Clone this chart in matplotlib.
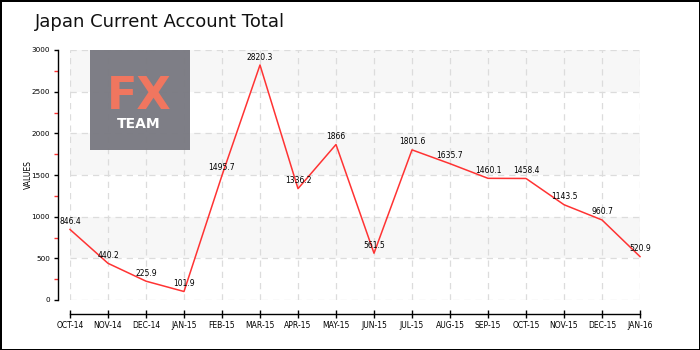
import matplotlib
matplotlib.use("Agg")
import matplotlib.pyplot as plt
from matplotlib.patches import Rectangle
from matplotlib.ticker import MultipleLocator

months = ["OCT-14", "NOV-14", "DEC-14", "JAN-15", "FEB-15", "MAR-15", "APR-15", "MAY-15",
          "JUN-15", "JUL-15", "AUG-15", "SEP-15", "OCT-15", "NOV-15", "DEC-15", "JAN-16"]
values = [846.4, 440.2, 225.9, 101.9, 1495.7, 2820.3, 1336.2, 1866,
          561.5, 1801.6, 1635.7, 1460.1, 1458.4, 1143.5, 960.7, 520.9]
labels = ["846.4", "440.2", "225.9", "101.9", "1495.7", "2820.3", "1336.2", "1866",
          "561.5", "1801.6", "1635.7", "1460.1", "1458.4", "1143.5", "960.7", "520.9"]
y_ticks = [0, 500, 1000, 1500, 2000, 2500, 3000]

W, H = 700, 350
fig = plt.figure(figsize=(7, 3.5), dpi=100)
fig.patch.set_facecolor("white")
fig.patch.set_edgecolor("black")
fig.patch.set_linewidth(2)

ax = fig.add_axes([70 / W, 50 / H, 570 / W, 250 / H])
for s in ["top", "right"]:
    ax.spines[s].set_visible(False)
ax.spines["left"].set_position(("outward", 9))
ax.spines["bottom"].set_position(("outward", 10))
ax.spines["left"].set_linewidth(1)
ax.spines["bottom"].set_linewidth(1)

x = list(range(len(months)))
ax.set_xlim(0, len(months) - 1)
ax.set_ylim(0, 3000)

# bands
for lo in [500, 1500, 2500]:
    ax.axhspan(lo, lo + 500, color="#f7f7f7", zorder=0, lw=0)

ax.grid(True, which="major", color="#dcdcdc", linestyle=(0, (5, 4)), linewidth=0.9, zorder=1)

ax.plot(x, values, color="#ff3333", linewidth=1.1, zorder=3, clip_on=False)
for xi, v, lab in zip(x, values, labels):
    ax.annotate(lab, (xi, v), xytext=(0, 2.5), textcoords="offset points",
                ha="center", va="bottom", fontsize=5.5, color="black", zorder=4,
                annotation_clip=False)

ax.set_xticks(x)
ax.set_xticklabels(months)
ax.set_yticks(y_ticks)
ax.set_yticklabels([str(t) for t in y_ticks])
ax.yaxis.set_minor_locator(MultipleLocator(250))

ax.tick_params(axis="y", which="major", direction="out", length=3, width=1, pad=2.5, labelsize=5.2)
ax.tick_params(axis="y", which="minor", direction="out", length=3, width=1, color="#ff3333")
ax.tick_params(axis="x", which="major", direction="inout", length=6, width=1, pad=2, labelsize=5.5)
ax.set_facecolor("white")

fig.text(28 / W, 1 - 175 / H, "VALUES", fontsize=5.5, rotation=90, ha="center", va="center")

# logo
fig.patches.append(Rectangle((90 / W, 1 - 150 / H), 100 / W, 100 / H,
                             transform=fig.transFigure, facecolor="#7a7a82",
                             alpha=0.97, edgecolor="none", zorder=10))
fig.text(139 / W, 1 - 109 / H, "FX", fontsize=32, fontweight="bold", color="#f0765f",
         ha="center", va="baseline", zorder=11)
fig.text(139 / W, 1 - 128 / H, "TEAM", fontsize=10, fontweight="bold", color="white",
         ha="center", va="baseline", zorder=11)

fig.text(35 / W, 1 - 22 / H, "Japan Current Account Total", fontsize=13, ha="left",
         va="center", color="#111111")

fig.savefig("out.png", dpi=100, facecolor=fig.get_facecolor(), edgecolor=fig.get_edgecolor())
